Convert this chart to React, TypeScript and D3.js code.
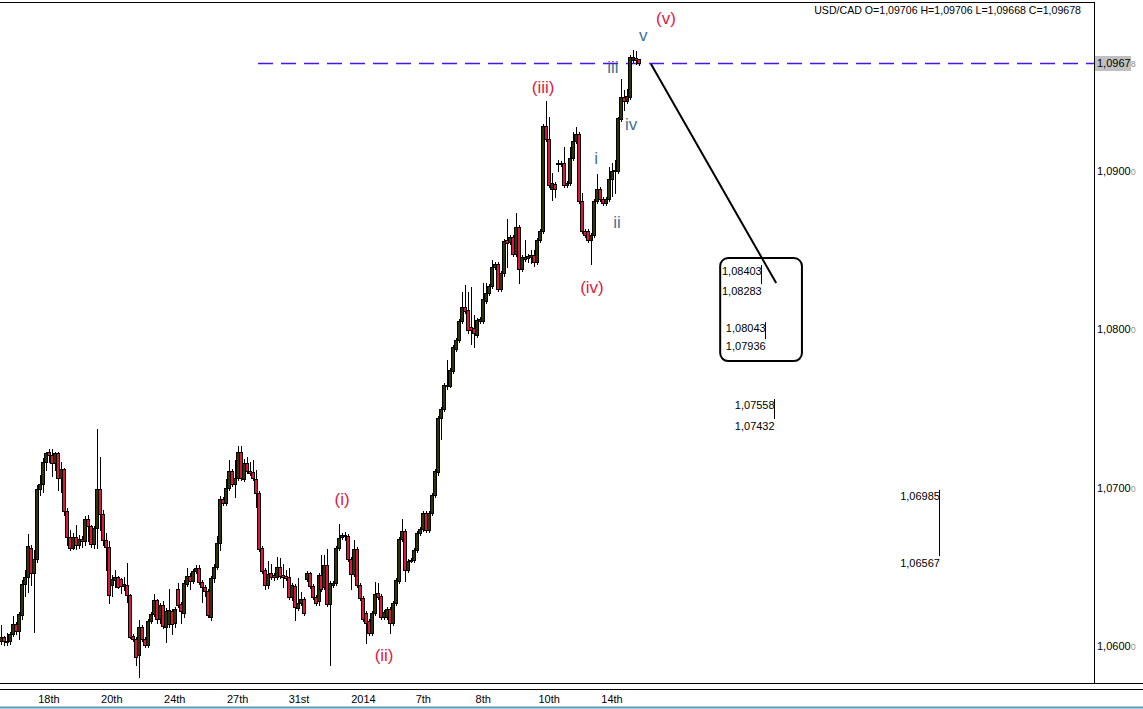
import React from 'react';
import * as d3 from 'd3';

// USD/CAD candles (oldest first)
const opens = [
  1.06032, 1.06057, 1.06032, 1.06032, 1.06076, 1.06139, 1.06095, 1.06196, 1.06391, 1.06435,
  1.06618, 1.06461, 1.06549, 1.06991, 1.07022, 1.07161, 1.07224, 1.07205, 1.07155, 1.07218,
  1.07060, 1.07117, 1.06852, 1.06688, 1.06618, 1.06688, 1.06637, 1.06675, 1.06663, 1.06801,
  1.06757, 1.06644, 1.06745, 1.06991, 1.06833, 1.06669, 1.06625, 1.06385, 1.06416, 1.06435,
  1.06423, 1.06379, 1.06385, 1.06322, 1.06063, 1.06044, 1.05943, 1.06120, 1.06044, 1.06006,
  1.06158, 1.06202, 1.06290, 1.06170, 1.06259, 1.06120, 1.06139, 1.06221, 1.06145, 1.06360,
  1.06265, 1.06208, 1.06391, 1.06442, 1.06410, 1.06473, 1.06492, 1.06404, 1.06372, 1.06347,
  1.06183, 1.06429, 1.06498, 1.06650, 1.06928, 1.06902, 1.06997, 1.07104, 1.07022, 1.07060,
  1.07224, 1.07054, 1.07155, 1.07104, 1.07098, 1.07054, 1.06965, 1.06618, 1.06480, 1.06385,
  1.06461, 1.06448, 1.06435, 1.06498, 1.06448, 1.06442, 1.06435, 1.06309, 1.06379, 1.06240,
  1.06271, 1.06297, 1.06423, 1.06461, 1.06379, 1.06309, 1.06284, 1.06448, 1.06372, 1.06511,
  1.06265, 1.06385, 1.06398, 1.06618, 1.06688, 1.06694, 1.06694, 1.06549, 1.06454, 1.06612,
  1.06385, 1.06303, 1.06208, 1.06158, 1.06082, 1.06208, 1.06334, 1.06316, 1.06183, 1.06183,
  1.06233, 1.06145, 1.06271, 1.06410, 1.06675, 1.06726, 1.06480, 1.06536, 1.06542, 1.06606,
  1.06713, 1.06738, 1.06839, 1.06732, 1.06839, 1.06953, 1.07098, 1.07439, 1.07495, 1.07647,
  1.07641, 1.07735, 1.07874, 1.07931, 1.08051, 1.08139, 1.08120, 1.08013, 1.08007, 1.07962,
  1.08051, 1.08051, 1.08177, 1.08227, 1.08272, 1.08391, 1.08410, 1.08253, 1.08354, 1.08562,
  1.08549, 1.08581, 1.08474, 1.08644, 1.08379, 1.08442, 1.08448, 1.08455, 1.08467, 1.08423,
  1.08562, 1.08619, 1.09281, 1.09199, 1.08884, 1.08915, 1.09041, 1.09041, 1.09048, 1.08909,
  1.08922, 1.09079, 1.09187, 1.09231, 1.08808, 1.08619, 1.08619, 1.08562, 1.08593, 1.08808,
  1.08884, 1.08821, 1.08795, 1.08821, 1.08947, 1.08997, 1.08997, 1.09325, 1.09464, 1.09439,
  1.09464, 1.09698, 1.09710, 1.09706,
];

const highs = [
  1.06133, 1.06063, 1.06082, 1.06088, 1.06189, 1.06151, 1.06215, 1.06416, 1.06480, 1.06707,
  1.06637, 1.06606, 1.07016, 1.07079, 1.07186, 1.07224, 1.07243, 1.07243, 1.07224, 1.07224,
  1.07161, 1.07123, 1.06871, 1.06732, 1.06713, 1.06764, 1.06700, 1.06694, 1.06820, 1.06827,
  1.06764, 1.06757, 1.07369, 1.07193, 1.06858, 1.06713, 1.06663, 1.06448, 1.06480, 1.06442,
  1.06429, 1.06435, 1.06524, 1.06328, 1.06076, 1.06057, 1.06164, 1.06133, 1.06057, 1.06170,
  1.06215, 1.06328, 1.06297, 1.06271, 1.06284, 1.06240, 1.06360, 1.06233, 1.06246, 1.06398,
  1.06278, 1.06416, 1.06492, 1.06461, 1.06486, 1.06511, 1.06511, 1.06416, 1.06385, 1.06360,
  1.06442, 1.06517, 1.06694, 1.06947, 1.06940, 1.07054, 1.07174, 1.07117, 1.07174, 1.07262,
  1.07262, 1.07180, 1.07193, 1.07161, 1.07174, 1.07111, 1.06978, 1.06631, 1.06492, 1.06536,
  1.06517, 1.06461, 1.06562, 1.06555, 1.06517, 1.06480, 1.06492, 1.06398, 1.06391, 1.06429,
  1.06341, 1.06309, 1.06473, 1.06467, 1.06391, 1.06322, 1.06461, 1.06574, 1.06574, 1.06612,
  1.06410, 1.06410, 1.06631, 1.06770, 1.06713, 1.06719, 1.06707, 1.06562, 1.06669, 1.06625,
  1.06398, 1.06316, 1.06221, 1.06170, 1.06221, 1.06404, 1.06398, 1.06328, 1.06227, 1.06246,
  1.06246, 1.06284, 1.06429, 1.06688, 1.06801, 1.06738, 1.06549, 1.06555, 1.06618, 1.06726,
  1.06751, 1.06852, 1.06852, 1.06852, 1.06965, 1.07117, 1.07451, 1.07508, 1.07660, 1.07805,
  1.07754, 1.07899, 1.07943, 1.08063, 1.08234, 1.08278, 1.08234, 1.08265, 1.08089, 1.08070,
  1.08076, 1.08291, 1.08291, 1.08284, 1.08436, 1.08423, 1.08423, 1.08366, 1.08568, 1.08694,
  1.08593, 1.08593, 1.08732, 1.08657, 1.08467, 1.08562, 1.08474, 1.08499, 1.08499, 1.08574,
  1.08631, 1.09294, 1.09439, 1.09338, 1.08985, 1.08928, 1.09067, 1.09060, 1.09149, 1.08934,
  1.09149, 1.09243, 1.09275, 1.09243, 1.08858, 1.08631, 1.08631, 1.08606, 1.08821, 1.08978,
  1.08896, 1.08833, 1.08833, 1.09022, 1.09048, 1.09067, 1.09338, 1.09578, 1.09508, 1.09515,
  1.09729, 1.09761, 1.09754, 1.09706,
];

const lows = [
  1.06013, 1.06006, 1.06006, 1.06013, 1.06063, 1.06076, 1.06044, 1.06170, 1.06316, 1.06341,
  1.06385, 1.06088, 1.06530, 1.06953, 1.06972, 1.07111, 1.07161, 1.07073, 1.07111, 1.06984,
  1.06972, 1.06827, 1.06637, 1.06606, 1.06612, 1.06612, 1.06618, 1.06625, 1.06637, 1.06663,
  1.06625, 1.06618, 1.06618, 1.06732, 1.06637, 1.06480, 1.06271, 1.06316, 1.06372, 1.06366,
  1.06334, 1.06353, 1.06278, 1.06050, 1.06032, 1.05880, 1.05804, 1.06032, 1.05994, 1.05994,
  1.06145, 1.06189, 1.06145, 1.06145, 1.06114, 1.06025, 1.06120, 1.06076, 1.06120, 1.06246,
  1.06145, 1.06183, 1.06379, 1.06360, 1.06398, 1.06461, 1.06391, 1.06278, 1.06316, 1.06183,
  1.06164, 1.06404, 1.06486, 1.06606, 1.06890, 1.06890, 1.06984, 1.07010, 1.06940, 1.07047,
  1.07047, 1.07041, 1.07092, 1.07079, 1.07047, 1.06877, 1.06599, 1.06461, 1.06360, 1.06366,
  1.06423, 1.06416, 1.06423, 1.06429, 1.06372, 1.06416, 1.06297, 1.06290, 1.06164, 1.06227,
  1.06259, 1.06196, 1.06410, 1.06366, 1.06297, 1.06259, 1.06259, 1.06347, 1.06360, 1.06252,
  1.05880, 1.06372, 1.06385, 1.06606, 1.06675, 1.06669, 1.06536, 1.06360, 1.06442, 1.06372,
  1.06290, 1.06158, 1.06019, 1.06069, 1.06069, 1.06196, 1.06297, 1.06170, 1.06170, 1.06170,
  1.06082, 1.06133, 1.06259, 1.06398, 1.06663, 1.06410, 1.06467, 1.06530, 1.06530, 1.06593,
  1.06700, 1.06726, 1.06719, 1.06719, 1.06827, 1.06940, 1.07079, 1.07306, 1.07483, 1.07622,
  1.07634, 1.07723, 1.07861, 1.07918, 1.08038, 1.08101, 1.07975, 1.07906, 1.07887, 1.07950,
  1.08038, 1.08038, 1.08164, 1.08215, 1.08259, 1.08379, 1.08240, 1.08240, 1.08335, 1.08391,
  1.08537, 1.08461, 1.08461, 1.08291, 1.08366, 1.08429, 1.08423, 1.08417, 1.08398, 1.08410,
  1.08549, 1.08606, 1.09187, 1.08896, 1.08814, 1.08833, 1.08997, 1.09029, 1.08896, 1.08896,
  1.08909, 1.09067, 1.09174, 1.08795, 1.08606, 1.08581, 1.08549, 1.08410, 1.08581, 1.08795,
  1.08808, 1.08783, 1.08783, 1.08808, 1.08840, 1.08858, 1.08985, 1.09313, 1.09382, 1.09426,
  1.09452, 1.09685, 1.09672, 1.09668,
];

const closes = [
  1.06057, 1.06032, 1.06028, 1.06076, 1.06139, 1.06095, 1.06202, 1.06391, 1.06435, 1.06631,
  1.06461, 1.06549, 1.06991, 1.07022, 1.07161, 1.07218, 1.07205, 1.07155, 1.07218, 1.07060,
  1.07117, 1.06852, 1.06688, 1.06618, 1.06688, 1.06637, 1.06675, 1.06663, 1.06801, 1.06757,
  1.06644, 1.06745, 1.06991, 1.06833, 1.06669, 1.06625, 1.06322, 1.06423, 1.06435, 1.06372,
  1.06379, 1.06391, 1.06322, 1.06057, 1.06044, 1.05931, 1.06120, 1.06044, 1.06006, 1.06158,
  1.06202, 1.06290, 1.06170, 1.06259, 1.06126, 1.06221, 1.06227, 1.06139, 1.06233, 1.06259,
  1.06221, 1.06398, 1.06442, 1.06410, 1.06473, 1.06492, 1.06404, 1.06372, 1.06347, 1.06196,
  1.06429, 1.06498, 1.06650, 1.06928, 1.06902, 1.06997, 1.07104, 1.07022, 1.07060, 1.07224,
  1.07060, 1.07155, 1.07104, 1.07092, 1.07060, 1.06965, 1.06612, 1.06473, 1.06385, 1.06454,
  1.06435, 1.06435, 1.06498, 1.06442, 1.06435, 1.06429, 1.06309, 1.06385, 1.06246, 1.06271,
  1.06297, 1.06208, 1.06461, 1.06379, 1.06309, 1.06271, 1.06448, 1.06360, 1.06511, 1.06265,
  1.06398, 1.06398, 1.06618, 1.06681, 1.06700, 1.06700, 1.06549, 1.06454, 1.06612, 1.06385,
  1.06303, 1.06170, 1.06145, 1.06082, 1.06208, 1.06328, 1.06309, 1.06183, 1.06215, 1.06233,
  1.06145, 1.06271, 1.06416, 1.06675, 1.06726, 1.06480, 1.06536, 1.06542, 1.06606, 1.06713,
  1.06738, 1.06839, 1.06732, 1.06839, 1.06953, 1.07104, 1.07439, 1.07495, 1.07647, 1.07641,
  1.07742, 1.07887, 1.07931, 1.08051, 1.08139, 1.08114, 1.07994, 1.07994, 1.07975, 1.08057,
  1.08063, 1.08190, 1.08227, 1.08272, 1.08391, 1.08410, 1.08253, 1.08354, 1.08556, 1.08543,
  1.08581, 1.08474, 1.08644, 1.08379, 1.08455, 1.08455, 1.08461, 1.08467, 1.08423, 1.08562,
  1.08619, 1.09281, 1.09199, 1.08909, 1.08922, 1.08884, 1.09048, 1.09048, 1.08909, 1.08922,
  1.09079, 1.09187, 1.09231, 1.08808, 1.08619, 1.08593, 1.08562, 1.08593, 1.08808, 1.08884,
  1.08821, 1.08795, 1.08821, 1.08947, 1.08997, 1.09004, 1.09332, 1.09464, 1.09439, 1.09471,
  1.09717, 1.09717, 1.09698, 1.09678,
];

// time axis: label and the bar it sits under
const dayLabels = ['18th', '20th', '24th', '27th', '31st', '2014', '7th', '8th', '10th', '14th'];
const dayLabelBars = [16, 37, 58, 79, 99.5, 121, 141, 161, 183, 204];

const priceTicks = [1.06, 1.07, 1.08, 1.09];

// Elliott wave counts
const waveText = ['(v)', 'v', '(iii)', 'iii', 'iv', 'i', 'ii', '(iv)', '(i)', '(ii)'];
const waveBar = [222, 214.4, 181, 204.3, 210.4, 198.7, 205.7, 197.3, 113.9, 127.9];
const wavePrice = [1.09956, 1.09849, 1.09521, 1.09647, 1.09293, 1.09073, 1.08675, 1.08259, 1.06927, 1.05937];
const waveMinor = [true, false, true, false, false, false, false, true, true, true];

// target zones
const targetHigh = [1.08403, 1.08043, 1.07558, 1.06985];
const targetLow = [1.08283, 1.07936, 1.07432, 1.06567];
const targetBar = [240.7, 242, 245, 300.2];

const projBar = [217, 258.8];
const projPrice = [1.09672, 1.0829];
const boxBar = [240.1, 267.4];
const boxPrice = [1.08448, 1.07798];
const priceLineStartBar = 85.8;

const W = 1143;
const H = 709;
const plotRight = 1094;
const plotBottom = 683;
const FONT = '"Liberation Sans", Arial, sans-serif';
const BULL = '#333300';
const BEAR = '#e0143f';
const WAVE_RED = '#e3173f';
const WAVE_BLUE = '#3f7391';

const fmt = (p: number) => p.toFixed(5).replace('.', ',');

export default function App() {
  const n = Math.min(opens.length, highs.length, lows.length, closes.length);
  const x = d3.scaleLinear().domain([0, n - 1]).range([1, 639]);
  const y = d3.scaleLinear().domain([1.06, 1.09]).range([646, 170.5]);

  const last = n - 1;
  const lastY = y(closes[last]);
  const lastStr = fmt(closes[last]);

  const candles = d3.range(n).map((i) => {
    const cx = Math.round(x(i));
    const up = closes[i] >= opens[i];
    const top = Math.round(y(Math.max(opens[i], closes[i])));
    const bot = Math.round(y(Math.min(opens[i], closes[i])));
    return (
      <g key={i}>
        <line x1={cx + 0.5} x2={cx + 0.5} y1={Math.round(y(highs[i]))} y2={Math.round(y(lows[i])) + 1} stroke="#000" strokeWidth={1} />
        <rect x={cx - 1.5} y={top + 0.5} width={3} height={Math.max(bot - top, 1)} fill={up ? BULL : BEAR} stroke="#000" strokeWidth={1} />
      </g>
    );
  });

  return (
    <svg width={W} height={H} style={{ position: 'absolute', left: 0, top: 0, background: '#fff' }} fontFamily={FONT}>
      {/* frame */}
      <line x1={0} x2={plotRight} y1={2.5} y2={2.5} stroke="#000" />
      <line x1={plotRight + 0.5} x2={plotRight + 0.5} y1={2} y2={plotBottom} stroke="#000" />
      <line x1={0} x2={W} y1={plotBottom + 0.5} y2={plotBottom + 0.5} stroke="#000" />
      <line x1={0} x2={W} y1={plotBottom + 6.5} y2={plotBottom + 6.5} stroke="#000" />
      <line x1={0} x2={W} y1={H - 1.5} y2={H - 1.5} stroke="#5b9bb5" strokeWidth={2} />

      {/* current price line */}
      <line x1={x(priceLineStartBar)} x2={plotRight} y1={Math.round(lastY) + 0.5} y2={Math.round(lastY) + 0.5}
        stroke="#4a14f0" strokeWidth={1.4} strokeDasharray="15,8" />

      {candles}

      {/* projection */}
      <line x1={x(projBar[0])} y1={y(projPrice[0])} x2={x(projBar[1])} y2={y(projPrice[1])} stroke="#000" strokeWidth={2} />
      <rect x={x(boxBar[0])} y={y(boxPrice[0])} width={x(boxBar[1]) - x(boxBar[0])} height={y(boxPrice[1]) - y(boxPrice[0])}
        rx={8} fill="none" stroke="#000" strokeWidth={2} />

      {targetHigh.map((hi, i) => {
        const tx = x(targetBar[i]);
        return (
          <g key={i} fontSize={11} fill="#000">
            <text x={tx} y={y(hi) + 10}>{fmt(hi)}</text>
            <text x={tx} y={y(targetLow[i]) + 11}>{fmt(targetLow[i])}</text>
            <line x1={Math.round(tx + 39) + 0.5} x2={Math.round(tx + 39) + 0.5} y1={y(hi)} y2={y(targetLow[i])} stroke="#000" />
          </g>
        );
      })}

      {/* wave labels */}
      {waveText.map((t, i) => (
        <text key={i} x={x(waveBar[i])} y={y(wavePrice[i])} fontSize={17} textAnchor="middle" dominantBaseline="central"
          fill={waveMinor[i] ? WAVE_RED : WAVE_BLUE}>{t}</text>
      ))}

      {/* price axis */}
      {priceTicks.map((p) => {
        const s = fmt(p);
        return (
          <text key={p} x={plotRight + 3} y={y(p) + 4} fontSize={11} fill="#000">
            {s.slice(0, 6)}<tspan fontSize={9} fill="#999">{s.slice(6)}</tspan>
          </text>
        );
      })}
      <rect x={plotRight + 1} y={Math.round(lastY) - 7} width={36} height={15} fill="#c0c0c0" />
      <text x={plotRight + 3} y={lastY + 4} fontSize={11} fill="#000">
        {lastStr.slice(0, 6)}<tspan fontSize={9} fill="#888">{lastStr.slice(6)}</tspan>
      </text>

      {/* time axis */}
      {dayLabels.map((d, i) => (
        <text key={d} x={x(dayLabelBars[i])} y={plotBottom + 20} fontSize={11} textAnchor="middle" fill="#000">{d}</text>
      ))}

      {/* header */}
      <text x={1081} y={14} fontSize={10.6} textAnchor="end" fill="#000">
        {`USD/CAD O=${fmt(opens[last])} H=${fmt(highs[last])} L=${fmt(lows[last])} C=${fmt(closes[last])}`}
      </text>
    </svg>
  );
}
